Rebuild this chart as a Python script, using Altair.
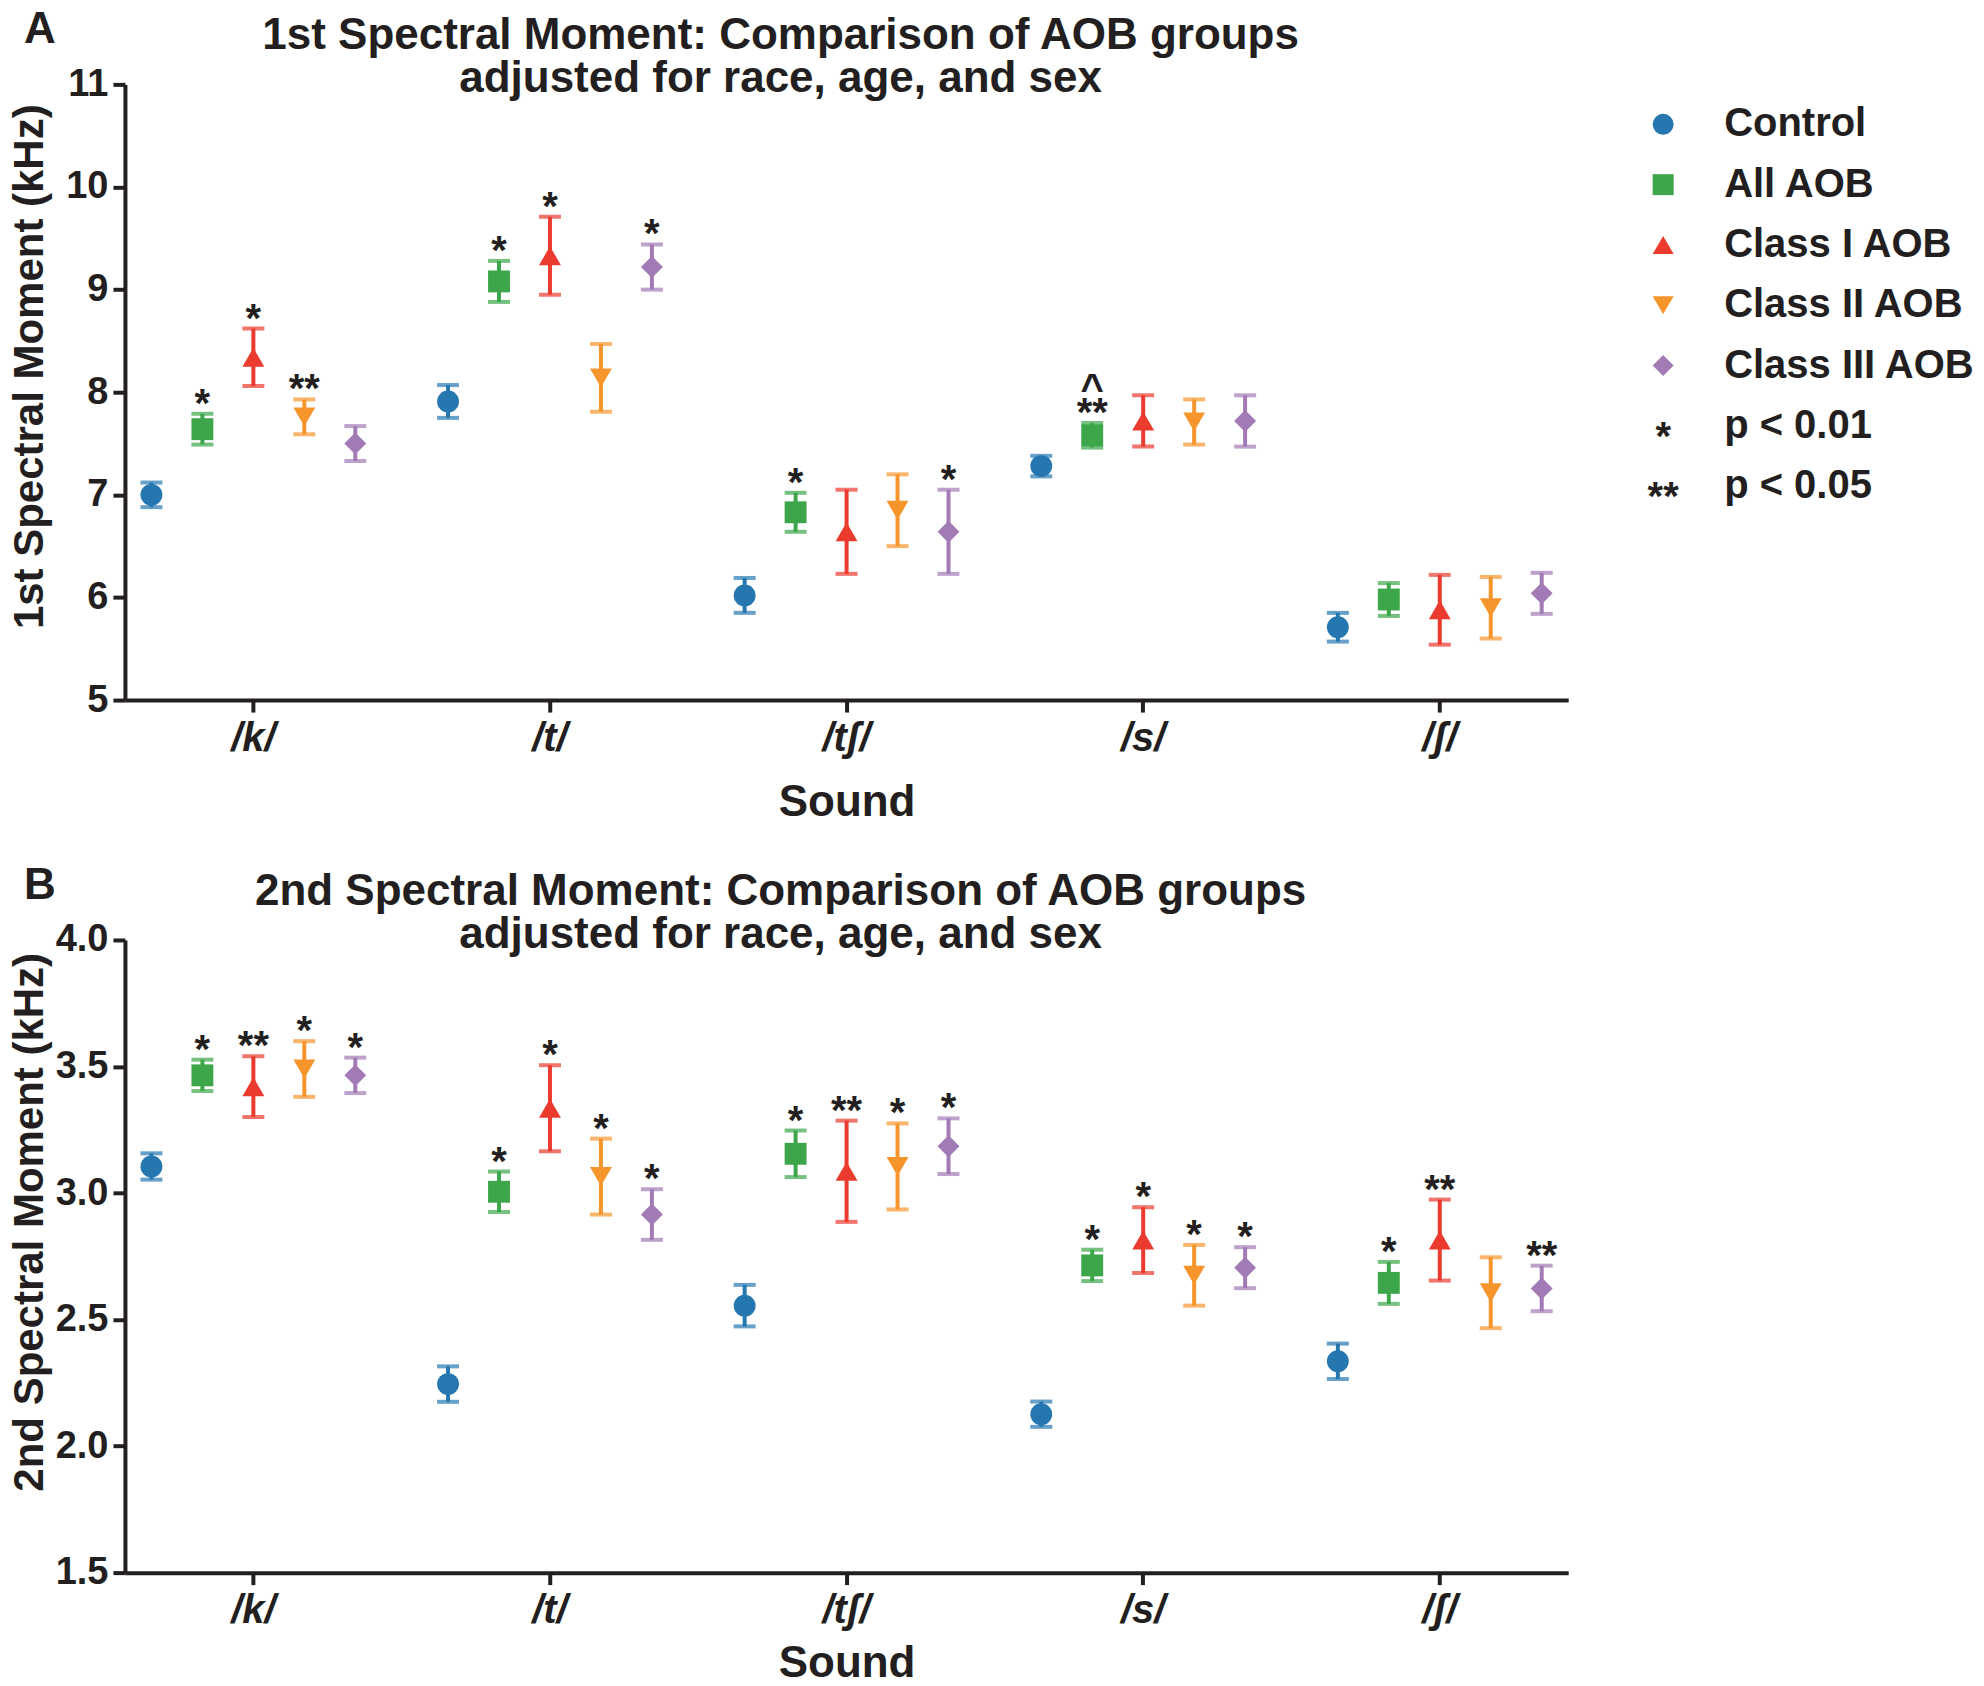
import altair as alt
import pandas as pd

FONT = "Liberation Sans"
INK = "#231f20"

sounds = ["/k/", "/t/", "/tʃ/", "/s/", "/ʃ/"]
groups = ["Control", "All AOB", "Class I AOB", "Class II AOB", "Class III AOB"]
colors = ["#2677b0", "#3da64a", "#eb3b2e", "#f7952d", "#a27bb6"]
shapes = ["circle", "square", "triangle-up", "triangle-down", "diamond"]

# 1st spectral moment (kHz): mean and half error bar, per sound (rows) and group (cols)
m1_mean = [
    [7.00, 7.64, 8.34, 7.76, 7.50],
    [7.91, 9.08, 9.33, 8.14, 9.22],
    [6.02, 6.83, 6.64, 6.85, 6.64],
    [7.28, 7.58, 7.72, 7.71, 7.72],
    [5.71, 5.98, 5.88, 5.90, 6.04],
]
m1_err = [
    [0.12, 0.15, 0.28, 0.17, 0.17],
    [0.16, 0.20, 0.38, 0.33, 0.22],
    [0.17, 0.19, 0.41, 0.35, 0.41],
    [0.10, 0.12, 0.25, 0.22, 0.25],
    [0.14, 0.16, 0.34, 0.30, 0.20],
]
m1_sig = [
    ["", "*", "*", "**", ""],
    ["", "*", "*", "", "*"],
    ["", "*", "", "", "*"],
    ["", "**", "", "", ""],
    ["", "", "", "", ""],
]
m1_caret = [
    ["", "", "", "", ""],
    ["", "", "", "", ""],
    ["", "", "", "", ""],
    ["", "^", "", "", ""],
    ["", "", "", "", ""],
]

# 2nd spectral moment (kHz)
m2_mean = [
    [3.105, 3.465, 3.42, 3.49, 3.465],
    [2.245, 3.005, 3.335, 3.065, 2.915],
    [2.555, 3.155, 3.086, 3.105, 3.185],
    [2.126, 2.714, 2.814, 2.675, 2.705],
    [2.335, 2.645, 2.814, 2.606, 2.623],
]
m2_err = [
    [0.052, 0.062, 0.12, 0.11, 0.07],
    [0.07, 0.08, 0.17, 0.15, 0.10],
    [0.082, 0.092, 0.20, 0.17, 0.11],
    [0.05, 0.062, 0.13, 0.12, 0.081],
    [0.07, 0.083, 0.16, 0.14, 0.09],
]
m2_sig = [
    ["", "*", "**", "*", "*"],
    ["", "*", "*", "*", "*"],
    ["", "*", "**", "*", "*"],
    ["", "*", "*", "*", "*"],
    ["", "*", "**", "", "**"],
]
m2_caret = [["", "", "", "", ""] for _ in range(5)]

legend_labels = groups + ["p < 0.01", "p < 0.05"]
legend_syms = ["", "", "", "", "", "*", "**"]

title1 = ["1st Spectral Moment: Comparison of AOB groups", "adjusted for race, age, and sex"]
title2 = ["2nd Spectral Moment: Comparison of AOB groups", "adjusted for race, age, and sex"]


def long_table(mean, err, sig, caret):
    rows = []
    for i, s in enumerate(sounds):
        for j, g in enumerate(groups):
            m, e = mean[i][j], err[i][j]
            rows.append({"sound": s, "group": g, "mean": m, "lo": m - e, "hi": m + e,
                         "sig": sig[i][j], "caret": caret[i][j]})
    return pd.DataFrame(rows)


color_scale = alt.Scale(domain=groups, range=colors)
shape_scale = alt.Scale(domain=groups, range=shapes)


def panel(mean, err, sig, caret, ytitle, ydomain, yticks, yfmt, title, height, xtitle_pad):
    df = long_table(mean, err, sig, caret)
    yscale = alt.Scale(domain=ydomain, nice=False, zero=False)
    yaxis = alt.Axis(
        title=ytitle, values=yticks, format=yfmt, grid=False,
        labelFontSize=38, titleFontSize=42, labelPadding=5, titlePadding=13,
        minExtent=60, maxExtent=60, titleY=282,
    )
    base = alt.Chart(df).encode(
        x=alt.X("sound:N", sort=sounds,
                scale=alt.Scale(paddingInner=0.134, paddingOuter=0),
                axis=alt.Axis(title="Sound", labelAngle=0, labelFontStyle="italic",
                              labelFontSize=40, titleFontSize=44, labelPadding=6,
                              titlePadding=xtitle_pad)),
        xOffset=alt.XOffset("group:N", sort=groups,
                            scale=alt.Scale(paddingInner=0, paddingOuter=0.02)),
        color=alt.Color("group:N", scale=color_scale, legend=None),
    )
    bars = base.mark_rule(strokeWidth=4).encode(
        y=alt.Y("lo:Q", scale=yscale, axis=yaxis), y2="hi:Q")
    cap_hi = base.mark_tick(orient="horizontal", size=22, thickness=4).encode(
        y=alt.Y("hi:Q", scale=yscale))
    cap_lo = base.mark_tick(orient="horizontal", size=22, thickness=4).encode(
        y=alt.Y("lo:Q", scale=yscale))
    pts = base.mark_point(filled=True, size=480, opacity=1).encode(
        y=alt.Y("mean:Q", scale=yscale),
        shape=alt.Shape("group:N", scale=shape_scale, legend=None))
    txt_base = alt.Chart(df).encode(
        x=alt.X("sound:N", sort=sounds),
        xOffset=alt.XOffset("group:N", sort=groups),
        y=alt.Y("hi:Q", scale=yscale),
    )
    txt = txt_base.mark_text(
        fontSize=40, fontWeight="bold", font=FONT, color=INK, baseline="bottom", dy=11,
    ).encode(text="sig:N")
    car = txt_base.mark_text(
        fontSize=40, fontWeight="bold", font=FONT, color=INK, baseline="bottom", dy=-13,
    ).encode(text="caret:N")
    return alt.layer(bars, cap_hi, cap_lo, pts, txt, car).properties(
        width=1444, height=height,
        title=alt.TitleParams(text=title, fontSize=44, font=FONT, fontWeight="bold",
                              anchor="middle", frame="bounds", lineHeight=43,
                              offset=-36, dx=-8, color=INK),
    )


panelA = panel(m1_mean, m1_err, m1_sig, m1_caret, "1st Spectral Moment (kHz)", [5, 11],
               [5, 6, 7, 8, 9, 10, 11], "d", title1, 616, 22)
panelB = panel(m2_mean, m2_err, m2_sig, m2_caret, "2nd Spectral Moment (kHz)", [1.5, 4.0],
               [1.5, 2.0, 2.5, 3.0, 3.5, 4.0], ".1f", title2, 633, 11)

# custom legend
leg_df = pd.DataFrame({"label": legend_labels, "sym": legend_syms,
                       "group": groups + ["", ""]})
leg_y = alt.Y("label:N", sort=legend_labels, axis=None,
              scale=alt.Scale(type="point", padding=0, range=[40, 402]))
leg_base = alt.Chart(leg_df).encode(y=leg_y)
leg_pts = leg_base.transform_filter("datum.sym == ''").mark_point(
    filled=True, size=441, opacity=1).encode(
    x=alt.value(62),
    color=alt.Color("group:N", scale=color_scale, legend=None),
    shape=alt.Shape("group:N", scale=shape_scale, legend=None))
leg_star = leg_base.transform_filter("datum.sym != ''").mark_text(
    fontSize=40, fontWeight="bold", font=FONT, color=INK, align="center", dy=12).encode(
    x=alt.value(62), text="sym:N")
leg_txt = leg_base.mark_text(
    fontSize=40, fontWeight="bold", font=FONT, color=INK, align="left").encode(
    x=alt.value(123), text="label:N")
legend = alt.layer(leg_pts, leg_star, leg_txt).properties(width=370, height=616)

top_row = alt.hconcat(panelA, legend, spacing=33, bounds="flush").properties(
    title=alt.TitleParams("A", fontSize=44, font=FONT, fontWeight="bold", anchor="start",
                          frame="group", offset=-38, dx=-101, color=INK))
bottom_row = alt.hconcat(panelB).properties(
    title=alt.TitleParams("B", fontSize=44, font=FONT, fontWeight="bold", anchor="start",
                          frame="group", offset=-38, dx=-101, color=INK))

chart = alt.vconcat(top_row, bottom_row, spacing=40).properties(
    padding=0
).configure_view(stroke=None).configure_axis(
    labelFont=FONT, titleFont=FONT, labelFontWeight="bold", titleFontWeight="bold",
    labelColor=INK, titleColor=INK, domainColor=INK, tickColor=INK,
    domainWidth=4, tickWidth=4, tickSize=12,
).configure_text(font=FONT)

chart.save("out.html", embed_options={"renderer": "svg", "actions": False})
